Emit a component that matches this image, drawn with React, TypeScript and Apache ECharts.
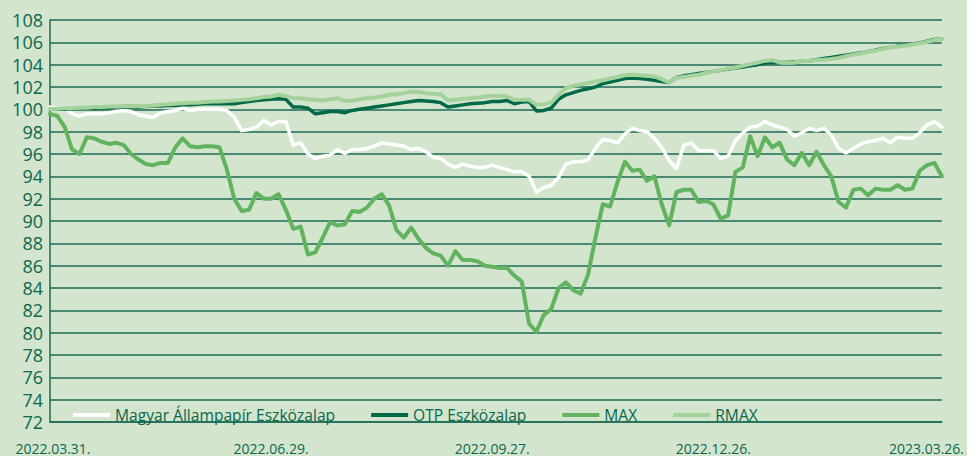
import React, { useEffect, useRef } from "react";
import * as echarts from "echarts";

// 3-day steps from 2022.03.31 (122 points)
const START = Date.UTC(2022, 2, 31);
const dates: string[] = Array.from({ length: 122 }, (_, i) => {
  const d = new Date(START + i * 3 * 86400000);
  const mm = String(d.getUTCMonth() + 1).padStart(2, "0");
  const dd = String(d.getUTCDate()).padStart(2, "0");
  return `${d.getUTCFullYear()}.${mm}.${dd}.`;
});

const seriesNames = ["Magyar Állampapír Eszközalap", "OTP Eszközalap", "MAX", "RMAX"];

const magyar = [
  100.2, 100.1, 100.1, 99.6, 99.4, 99.6, 99.6, 99.6, 99.7, 99.8,
  99.9, 99.8, 99.5, 99.4, 99.3, 99.7, 99.8, 99.9, 100.1, 99.9,
  100.0, 100.0, 100.0, 100.0, 99.9, 99.3, 98.1, 98.2, 98.4, 99.0,
  98.6, 98.9, 98.9, 96.8, 97.0, 96.0, 95.6, 95.8, 95.9, 96.4,
  96.05, 96.4, 96.4, 96.5, 96.7, 97.0, 96.9, 96.8, 96.7, 96.4,
  96.5, 96.2, 95.7, 95.6, 95.1, 94.8, 95.1, 94.9, 94.8, 94.8,
  95.0, 94.8, 94.6, 94.4, 94.4, 94.0, 92.6, 93.0, 93.2, 93.9,
  95.1, 95.3, 95.3, 95.5, 96.5, 97.3, 97.2, 97.0, 97.8, 98.3,
  98.1, 98.0, 97.4, 96.6, 95.4, 94.7, 96.8, 97.0, 96.3, 96.3,
  96.3, 95.6, 95.8, 97.2, 97.9, 98.4, 98.5, 98.9, 98.6, 98.4,
  98.2, 97.6, 97.9, 98.3, 98.1, 98.3, 97.7, 96.5, 96.1, 96.5,
  96.9, 97.1, 97.2, 97.4, 97.0, 97.5, 97.4, 97.4, 97.9, 98.6,
  98.9, 98.4,
];

const otp = [
  100.0, 100.0, 100.0, 100.05, 100.1, 100.1, 100.1, 100.15, 100.15, 100.2,
  100.2, 100.2, 100.2, 100.25, 100.3, 100.3, 100.35, 100.35, 100.4, 100.4,
  100.45, 100.5, 100.5, 100.5, 100.5, 100.5, 100.6, 100.7, 100.8, 100.85,
  100.9, 100.95, 100.9, 100.2, 100.2, 100.1, 99.6, 99.7, 99.8, 99.8,
  99.7, 99.9, 100.0, 100.1, 100.2, 100.3, 100.4, 100.5, 100.6, 100.7,
  100.8, 100.75, 100.7, 100.6, 100.2, 100.3, 100.4, 100.5, 100.55, 100.6,
  100.7, 100.7, 100.8, 100.5, 100.65, 100.7, 99.85, 99.9, 100.1, 100.9,
  101.3, 101.5, 101.7, 101.85, 102.0, 102.3, 102.45, 102.6, 102.75, 102.8,
  102.75, 102.7, 102.6, 102.5, 102.4, 102.85, 103.0, 103.1, 103.2, 103.3,
  103.4, 103.5, 103.6, 103.7, 103.8, 103.9, 104.0, 104.15, 104.2, 104.2,
  104.2, 104.25, 104.3, 104.35, 104.45, 104.55, 104.65, 104.75, 104.85, 104.95,
  105.05, 105.15, 105.3, 105.45, 105.55, 105.65, 105.75, 105.85, 105.95, 106.1,
  106.25, 106.3,
];

const max = [
  99.6, 99.4, 98.4, 96.4, 96.0, 97.5, 97.4, 97.1, 96.9, 97.0,
  96.8, 96.0, 95.5, 95.1, 95.0, 95.2, 95.2, 96.6, 97.4, 96.7,
  96.6, 96.7, 96.7, 96.6, 94.6, 92.0, 90.9, 91.0, 92.5, 92.0,
  92.0, 92.4, 91.0, 89.3, 89.5, 87.0, 87.2, 88.5, 89.9, 89.6,
  89.7, 90.9, 90.8, 91.2, 92.0, 92.4, 91.4, 89.2, 88.5, 89.4,
  88.4, 87.6, 87.1, 86.9, 86.0, 87.3, 86.5, 86.5, 86.4, 86.0,
  85.9, 85.8, 85.8, 85.1, 84.6, 80.8, 80.1, 81.6, 82.1, 84.0,
  84.5, 83.8, 83.5, 85.2, 88.5, 91.5, 91.3, 93.5, 95.3, 94.5,
  94.6, 93.6, 94.0, 91.5, 89.6, 92.6, 92.8, 92.8, 91.7, 91.8,
  91.5, 90.2, 90.5, 94.4, 94.8, 97.6, 95.8, 97.5, 96.6, 97.0,
  95.5, 95.0, 96.1, 95.0, 96.2, 95.0, 94.0, 91.7, 91.2, 92.8,
  92.9, 92.3, 92.9, 92.8, 92.8, 93.2, 92.8, 92.9, 94.5, 95.0,
  95.2, 94.0,
];

const rmax = [
  100.0, 100.05, 100.1, 100.1, 100.15, 100.15, 100.2, 100.2, 100.25, 100.25,
  100.3, 100.3, 100.3, 100.3, 100.35, 100.4, 100.45, 100.5, 100.55, 100.6,
  100.6, 100.65, 100.7, 100.7, 100.75, 100.8, 100.85, 100.9, 101.0, 101.1,
  101.15, 101.3, 101.2, 101.0, 101.0, 100.9, 100.85, 100.8, 100.9, 101.0,
  100.75, 100.8, 100.9, 101.0, 101.05, 101.15, 101.3, 101.35, 101.45, 101.6,
  101.55, 101.45, 101.4, 101.35, 100.8, 100.85, 100.95, 101.0, 101.05, 101.15,
  101.2, 101.2, 101.15, 100.85, 100.85, 100.85, 100.4, 100.45, 100.6, 101.3,
  101.9, 102.1, 102.25, 102.35, 102.5, 102.6, 102.75, 102.9, 103.05, 103.1,
  103.05, 103.0, 102.95, 102.7, 102.4, 102.8, 102.9, 103.0, 103.1, 103.25,
  103.4, 103.5, 103.65, 103.75, 103.9, 104.05, 104.2, 104.35, 104.4, 104.2,
  104.15, 104.2, 104.3, 104.35, 104.4, 104.45, 104.5, 104.6, 104.75, 104.9,
  105.0, 105.15, 105.25, 105.4, 105.55, 105.6, 105.7, 105.8, 105.9, 106.05,
  106.2, 106.3,
];

const GRID = "#1d6b57";
const TEXT = "#0a684d";
const FONT = "'Open Sans', sans-serif";
const colors = ["#ffffff", "#006a48", "#62b35f", "#a4d29b"];
const widths = [3.5, 3.5, 4, 4];
const values = [magyar, otp, max, rmax];

export default function App() {
  const ref = useRef<HTMLDivElement>(null);
  useEffect(() => {
    if (!ref.current) return;
    const chart = echarts.init(ref.current, null, { renderer: "svg" });
    chart.setOption({
      animation: false,
      backgroundColor: "#d3e5cd",
      grid: { left: 50, right: 24, top: 20, bottom: 34 },
      legend: {
        left: 68,
        top: 402,
        itemWidth: 37,
        itemHeight: 4,
        itemGap: 36,
        icon: "rect",
        textStyle: { fontSize: 15.6, color: TEXT, fontFamily: FONT },
        data: seriesNames,
      },
      xAxis: {
        type: "category",
        data: dates,
        boundaryGap: false,
        axisLine: { show: true, lineStyle: { color: GRID, width: 1.5 } },
        axisTick: { show: false },
        splitLine: { show: false },
        axisLabel: {
          interval: (i: number) => i % 30 === 0,
          margin: 19,
          fontSize: 14,
          color: TEXT,
          fontFamily: FONT,
          formatter: (v: string, i: number) =>
            i === 0 ? `{first|${v}}` : i === 120 ? `{last|${v}}` : v,
          rich: {
            first: { fontSize: 14, color: TEXT, fontFamily: FONT, padding: [0, 0, 0, 6] },
            last: { fontSize: 14, color: TEXT, fontFamily: FONT, padding: [0, 16, 0, 0] },
          },
        },
      },
      yAxis: {
        type: "value",
        min: 72,
        max: 108,
        interval: 2,
        axisLine: { show: true, lineStyle: { color: GRID, width: 1.5 } },
        axisTick: { show: false },
        axisLabel: { fontSize: 18, color: TEXT, fontFamily: FONT, margin: 7 },
        splitLine: { show: true, lineStyle: { color: GRID, width: 1.5 } },
      },
      series: seriesNames.map((name, k) => ({
        name,
        type: "line",
        data: values[k],
        color: colors[k],
        symbol: "none",
        lineStyle: { color: colors[k], width: widths[k], cap: "round", join: "round" },
      })),
    });
    return () => chart.dispose();
  }, []);
  return (
    <div style={{ position: "absolute", left: 0, top: 0, width: 978, height: 456, background: "#ffffff" }}>
      <div ref={ref} style={{ width: 967, height: 456 }} />
    </div>
  );
}
